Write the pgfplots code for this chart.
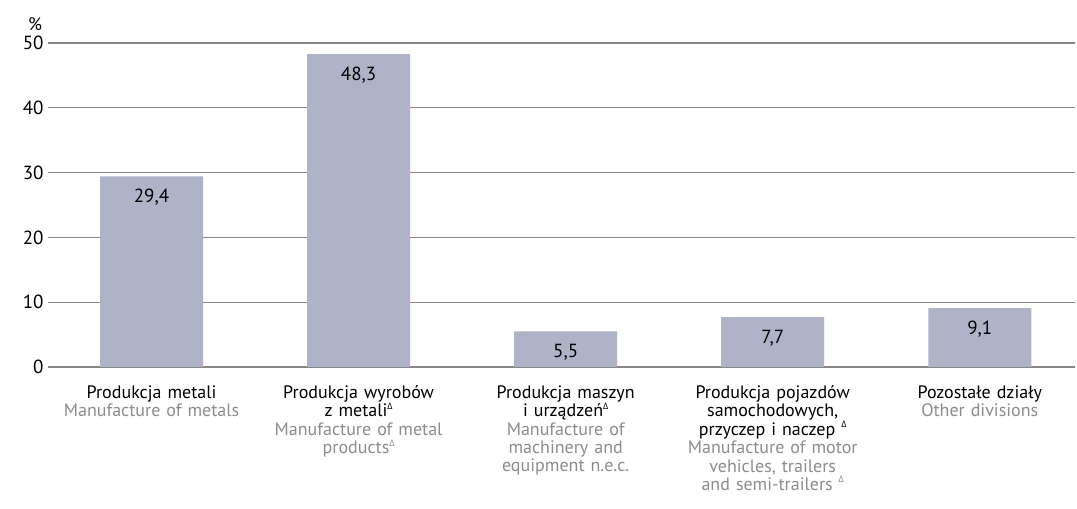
\documentclass[border=0pt]{standalone}
\usepackage{fontspec}
\setmainfont{PT Sans}
\newfontfamily\dfont{Open Sans}
\usepackage{pgfplots}
\pgfplotsset{compat=1.18}
\definecolor{barc}{RGB}{174,179,199}
\definecolor{engc}{RGB}{140,140,140}
\definecolor{gridc}{RGB}{135,135,135}
\newcommand{\dl}{\raisebox{0.42em}{\dfont\fontsize{9}{9}\selectfont Δ}}
\newcommand{\en}[1]{\textcolor{engc}{#1}}
\newcommand{\lf}{\fontsize{18}{18.4}\selectfont}
\begin{document}
\begin{tikzpicture}
\begin{axis}[
 name=ax,
 scale only axis, width=1027pt, height=324pt,
 xmin=-0.5, xmax=4.46, ymin=0, ymax=50,
 ytick={0,10,...,50},
 axis line style={draw=none},
 ymajorgrids, grid style={gridc, line width=1.2pt},
 major tick length=0pt,
 xtick={0,...,4},
 xticklabels={
  {\lf Produkcja metali\\\en{Manufacture of metals}},
  {\lf Produkcja wyrobów\\z metali\dl\\\en{Manufacture of metal}\\\en{products\dl}},
  {\lf Produkcja maszyn\\i urządzeń\dl\\\en{Manufacture of}\\\en{machinery and}\\\en{equipment n.e.c.}},
  {\lf Produkcja pojazdów\\samochodowych,\\przyczep i naczep \dl\\\en{Manufacture of motor}\\\en{vehicles, trailers}\\\en{and semi-trailers \dl}},
  {\lf Pozostałe działy\\\en{Other divisions}}
 },
 xticklabel style={text width=205pt, align=center, anchor=north, font=\lf, yshift=-15pt},
 yticklabel style={font=\fontsize{19}{21}\selectfont, xshift=-1pt},
 /pgf/number format/assume math mode=true,
 ybar, bar width=103pt,
 nodes near coords, point meta=explicit symbolic,
 nodes near coords style={anchor=center, yshift=-21pt, font=\fontsize{19}{21}\selectfont, text=black},
 clip=false,
]
\addplot[fill=barc, draw=none] coordinates {(0,29.4)[29,4] (1,48.3)[48,3] (2,5.5)[5,5] (3,7.7)[7,7] (4,9.1)[9,1]};
\node[font=\fontsize{18}{20}\selectfont] at (rel axis cs:0,1) [xshift=-13pt, yshift=19pt] {\%};
\end{axis}
\pgfresetboundingbox
\path (ax.south west) ++(-48pt,-142pt) coordinate (bl);
\path (ax.north east) ++(2pt,43pt) coordinate (tr);
\path (bl) rectangle (tr);
\end{tikzpicture}
\end{document}
